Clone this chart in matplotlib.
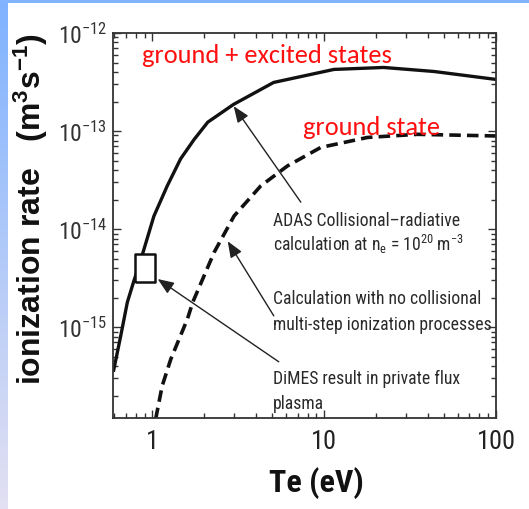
import numpy as np
import matplotlib
matplotlib.use("Agg")
import matplotlib.pyplot as plt
from matplotlib.patches import Rectangle
from matplotlib.ticker import LogLocator, FixedLocator, FuncFormatter, NullFormatter

NARROW = ["Roboto Condensed", "Archivo Narrow", "Liberation Sans"]
plt.rcParams["mathtext.default"] = "regular"

# ground + excited states (ADAS collisional-radiative)
te_adas = [0.593, 0.655, 0.715, 0.778, 0.875, 1.02, 1.22, 1.46, 1.75, 2.1,
           2.97, 5.08, 11.4, 22.2, 43.5, 100]
rate_adas = [3.5e-16, 8.2e-16, 1.79e-15, 2.9e-15, 5.5e-15, 1.35e-14, 2.75e-14,
             5.2e-14, 8.2e-14, 1.23e-13, 1.87e-13, 3.13e-13, 4.25e-13,
             4.45e-13, 4.05e-13, 3.36e-13]

# ground state only (no multi-step ionization)
te_ground = [1.045, 1.14, 1.28, 1.6, 1.72, 2.29, 2.99, 4.27, 6.11, 9.55,
             17.9, 34.9, 100]
rate_ground = [1.15e-16, 2.5e-16, 4.7e-16, 1.21e-15, 1.8e-15, 5.8e-15,
               1.36e-14, 2.75e-14, 4.4e-14, 6.8e-14, 8.6e-14, 9.25e-14, 8.9e-14]

# DiMES measurement
te_dimes = [0.908]
rate_dimes = [4.0e-15]

x_ticks = [1, 10, 100]
x_tick_labels = ["1", "10", "100"]
y_ticks = [1e-15, 1e-14, 1e-13, 1e-12]


def main():
    fig = plt.figure(figsize=(5.29, 5.10), dpi=100)
    fig.patch.set_facecolor("white")

    # slide background strips
    grad = fig.add_axes([0, 0, 8 / 529, 1])
    g = np.linspace(0, 1, 200)[:, None, None]
    top_c = np.array([0.50, 0.70, 1.00])
    bot_c = np.array([0.89, 0.88, 0.95])
    grad.imshow(top_c * (1 - g) + bot_c * g, aspect="auto")
    grad.axis("off")
    fig.patches.append(Rectangle((0, 1 - 4 / 510), 1, 4 / 510, transform=fig.transFigure,
                                 facecolor="#80b4ff", edgecolor="none", zorder=0))

    ax = fig.add_axes([113 / 529, 1 - 419 / 510, 383 / 529, 385 / 510])
    ax.plot(te_adas, rate_adas, color="#111111", lw=2.4, solid_capstyle="butt")
    ax.plot(te_ground, rate_ground, color="#111111", lw=2.6, dashes=(3.2, 1.7))
    ax.plot(te_dimes, rate_dimes, linestyle="none",
            marker=[(-0.75, -1), (0.75, -1), (0.75, 1), (-0.75, 1), (-0.75, -1)],
            markersize=20, markerfacecolor="white", markeredgecolor="#111111",
            markeredgewidth=1.8)

    ax.set_xscale("log")
    ax.set_yscale("log")
    ax.set_xlim(0.59, 100)
    ax.set_ylim(1.18e-16, 1e-12)

    ax.xaxis.set_major_locator(FixedLocator(x_ticks))
    ax.set_xticklabels(x_tick_labels, family=NARROW, fontsize=19, color="#222222")
    ax.xaxis.set_minor_locator(LogLocator(base=10, subs=np.arange(2, 10)))
    ax.xaxis.set_minor_formatter(NullFormatter())

    ax.yaxis.set_major_locator(FixedLocator(y_ticks))
    ax.yaxis.set_major_formatter(FuncFormatter(
        lambda v, p: r"$10^{%d}$" % int(round(np.log10(v)))))
    ax.yaxis.set_minor_locator(LogLocator(base=10, subs=np.arange(2, 10)))
    ax.yaxis.set_minor_formatter(NullFormatter())
    for lab in ax.get_yticklabels():
        lab.set_family(NARROW)
        lab.set_fontsize(17)
        lab.set_color("#333333")

    ax.tick_params(which="both", direction="in", top=True, right=True,
                   color="#333333", width=1.0)
    ax.tick_params(which="major", length=6)
    ax.tick_params(which="minor", length=3.5)
    ax.tick_params(axis="x", pad=8)
    ax.tick_params(axis="y", pad=4)
    for s in ax.spines.values():
        s.set_color("#333333")
        s.set_linewidth(1.3)

    ax.set_xlabel("Te (eV)", family=NARROW, fontweight="bold", fontsize=23,
                  color="#111111")
    ax.xaxis.set_label_coords(0.53, -0.125)
    ax.set_ylabel(r"ionization rate   (m$^3$s$^{-1}$)", family="Liberation Sans",
                  fontweight="bold", fontsize=23, color="#111111")
    ax.yaxis.set_label_coords(-0.165, 0.545)

    # red labels
    red_font = ["Carlito", "Lato"]
    ax.text(0.076, 0.925, "ground + excited states", transform=ax.transAxes,
            color="#ff1010", fontsize=19, family=red_font, va="baseline")
    ax.text(0.496, 0.737, "ground state", transform=ax.transAxes,
            color="#ff1010", fontsize=19, family=red_font, va="baseline")

    # annotation texts
    tc = "#2a2a2a"
    lines = [
        ("ADAS Collisional\u2013radiative", 0.501),
        (r"calculation at n$_e$ = 10$^{20}$ m$^{-3}$", 0.436),
        ("Calculation with no collisional", 0.299),
        ("multi-step ionization processes", 0.231),
        ("DiMES result in private flux", 0.091),
        ("plasma", 0.026),
    ]
    for txt, yy in lines:
        ax.text(0.418, yy, txt, transform=ax.transAxes, family=NARROW,
                fontsize=12.7, color=tc, va="baseline")

    arrows = [
        ((2.975, 1.79e-13), (7.31, 1.88e-14)),
        ((2.745, 7.5e-15), (5.09, 1.30e-15)),
        ((1.074, 3.09e-15), (5.44, 4.42e-16)),
    ]
    for head, tail in arrows:
        ax.annotate("", xy=head, xytext=tail,
                    arrowprops=dict(arrowstyle="-|>,head_length=0.7,head_width=0.28",
                                    color="#222222", lw=1.0, mutation_scale=14,
                                    shrinkA=0, shrinkB=0))

    fig.savefig("out.png", dpi=100)


if __name__ == "__main__":
    main()
